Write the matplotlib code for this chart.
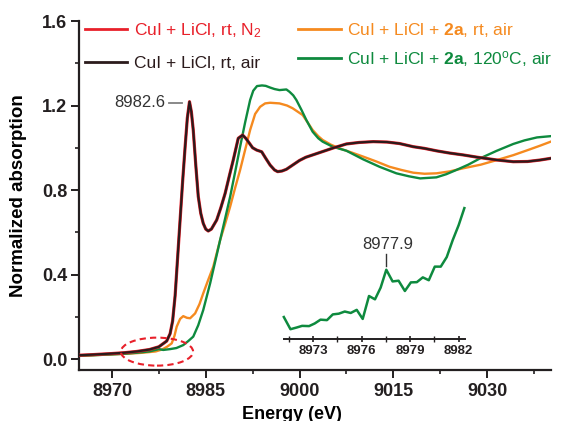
import matplotlib
matplotlib.use("Agg")
import matplotlib.pyplot as plt
from matplotlib.patches import Ellipse
from matplotlib.ticker import MultipleLocator
import numpy as np

plt.rcParams['font.family'] = ['Liberation Sans', 'DejaVu Sans']
plt.rcParams['mathtext.fontset'] = 'custom'
plt.rcParams['mathtext.rm'] = 'Liberation Sans'
plt.rcParams['mathtext.bf'] = 'Liberation Sans:bold'
plt.rcParams['mathtext.it'] = 'Liberation Sans:italic'

# ---------------- data ----------------
labels = [r"CuI + LiCl, rt, N$_2$",
          "CuI + LiCl, rt, air",
          r"CuI + LiCl + $\mathbf{2a}$, rt, air",
          r"CuI + LiCl + $\mathbf{2a}$, 120$^{\rm o}$C, air"]

black_E = [8964.8, 8967.0, 8970.0, 8972.0, 8974.0, 8976.0, 8977.5, 8978.75, 8979.3, 8979.7,
           8980.1, 8980.5, 8980.9, 8981.3, 8981.7, 8982.05, 8982.4, 8982.7, 8983.0, 8983.4,
           8983.8, 8984.2, 8984.6, 8985.0, 8985.4, 8985.9, 8986.75, 8987.4, 8988.1, 8988.8,
           8989.4, 8990.2, 8990.9, 8991.4, 8991.8, 8992.5, 8993.15, 8993.95, 8994.6, 8995.3,
           8996.0, 8996.5, 8997.2, 8997.9, 8999.0, 9000.0, 9001.0, 9002.1, 9004.0, 9005.5,
           9007.5, 9009.5, 9011.8, 9014.0, 9016.0, 9018.2, 9020.0, 9022.0, 9024.0, 9026.2,
           9028.5, 9031.6, 9034.2, 9036.5, 9038.5, 9040.2]
black_mu = [0.018, 0.021, 0.026, 0.030, 0.036, 0.045, 0.058, 0.085, 0.12, 0.18,
            0.30, 0.48, 0.66, 0.84, 1.005, 1.14, 1.218, 1.17, 1.084, 0.92,
            0.77, 0.69, 0.642, 0.615, 0.606, 0.615, 0.658, 0.715, 0.784, 0.87,
            0.942, 1.045, 1.06, 1.045, 1.029, 1.0, 0.989, 0.981, 0.95, 0.918,
            0.895, 0.887, 0.89, 0.898, 0.92, 0.94, 0.955, 0.966, 0.985, 1.0,
            1.018, 1.025, 1.029, 1.027, 1.02, 1.005, 0.997, 0.985, 0.975, 0.966,
            0.955, 0.942, 0.934, 0.935, 0.942, 0.95]

red_E = black_E
red_mu = [0.018, 0.021, 0.026, 0.030, 0.036, 0.045, 0.058, 0.085, 0.12, 0.18,
          0.30, 0.48, 0.66, 0.84, 1.005, 1.14, 1.218, 1.17, 1.084, 0.92,
          0.77, 0.69, 0.642, 0.615, 0.606, 0.615, 0.658, 0.715, 0.784, 0.87,
          0.942, 1.045, 1.06, 1.045, 1.029, 1.0, 0.989, 0.981, 0.95, 0.918,
          0.895, 0.887, 0.89, 0.898, 0.92, 0.94, 0.955, 0.966, 0.985, 1.0,
          1.018, 1.025, 1.029, 1.027, 1.02, 1.005, 0.997, 0.985, 0.975, 0.966,
          0.955, 0.942, 0.934, 0.935, 0.942, 0.95]

orange_E = [8964.8, 8967.0, 8970.0, 8973.0, 8975.0, 8977.0, 8978.0, 8978.8, 8979.55, 8980.0,
            8980.35, 8980.9, 8981.4, 8982.0, 8982.5, 8983.3, 8984.0, 8984.6, 8985.4, 8986.2,
            8987.3, 8988.1, 8988.9, 8989.7, 8990.5, 8991.3, 8992.1, 8992.9, 8993.7, 8994.5,
            8995.3, 8996.8, 8998.0, 8998.9, 9000.0, 9000.5, 9001.3, 9002.1, 9003.0, 9003.7,
            9005.0, 9006.4, 9008.3, 9010.2, 9012.3, 9014.4, 9016.3, 9018.2, 9020.0, 9021.9,
            9024.0, 9026.2, 9029.0, 9031.6, 9034.2, 9036.9, 9038.5, 9040.2]
orange_mu = [0.015, 0.018, 0.022, 0.026, 0.030, 0.036, 0.045, 0.058, 0.074, 0.11,
             0.153, 0.19, 0.203, 0.195, 0.193, 0.216, 0.26, 0.311, 0.375, 0.437,
             0.563, 0.64, 0.721, 0.81, 0.895, 0.99, 1.084, 1.16, 1.194, 1.21,
             1.213, 1.21, 1.20, 1.187, 1.165, 1.155, 1.12, 1.084, 1.055, 1.037,
             1.015, 0.997, 0.978, 0.958, 0.935, 0.91, 0.895, 0.882, 0.877, 0.879,
             0.888, 0.903, 0.92, 0.942, 0.965, 0.993, 1.01, 1.029]

green_E = [8964.8, 8967.0, 8970.0, 8972.0, 8974.0, 8976.0, 8977.5, 8978.2, 8979.3, 8980.3,
           8981.4, 8982.2, 8983.0, 8983.8, 8984.6, 8985.7, 8986.5, 8987.3, 8988.1, 8988.9,
           8989.7, 8990.5, 8991.3, 8992.1, 8992.6, 8993.2, 8994.0, 8994.6, 8995.3, 8996.0,
           8996.8, 8997.9, 8998.4, 8999.0, 8999.5, 9000.3, 9001.1, 9002.1, 9003.0, 9003.7,
           9005.3, 9007.5, 9010.2, 9012.8, 9015.5, 9017.5, 9019.3, 9021.9, 9023.5, 9025.1,
           9027.0, 9028.9, 9031.5, 9034.2, 9036.0, 9038.0, 9040.2]
green_mu = [0.015, 0.018, 0.022, 0.025, 0.030, 0.036, 0.047, 0.043, 0.047, 0.052,
            0.066, 0.085, 0.106, 0.16, 0.232, 0.358, 0.46, 0.563, 0.665, 0.768,
            0.885, 1.005, 1.12, 1.226, 1.27, 1.292, 1.295, 1.293, 1.285, 1.278,
            1.273, 1.276, 1.265, 1.248, 1.226, 1.18, 1.131, 1.076, 1.045, 1.029,
            1.005, 0.986, 0.945, 0.91, 0.879, 0.865, 0.855, 0.86, 0.875, 0.895,
            0.92, 0.95, 0.985, 1.018, 1.035, 1.049, 1.055]

inset_E = [8971.19, 8971.60, 8971.98, 8972.32, 8972.75, 8973.10, 8973.46, 8973.86, 8974.22, 8974.59,
           8974.96, 8975.33, 8975.70, 8976.07, 8976.46, 8976.83, 8977.18, 8977.53, 8977.92, 8978.29,
           8978.68, 8979.05, 8979.42, 8979.79, 8980.16, 8980.53, 8980.90, 8981.27, 8981.64, 8982.01,
           8982.36]
inset_mu = [0.0294, 0.0243, 0.0250, 0.0257, 0.0256, 0.0267, 0.0283, 0.0281, 0.0305, 0.0308,
            0.0317, 0.0311, 0.0324, 0.0286, 0.0382, 0.0368, 0.0417, 0.0492, 0.0443, 0.0446,
            0.0403, 0.0439, 0.0440, 0.0460, 0.0448, 0.0505, 0.0505, 0.0545, 0.0616, 0.0679,
            0.0750]

main_xticks = [8970, 8985, 9000, 9015, 9030]
main_yticks = [0.0, 0.4, 0.8, 1.2, 1.6]
inset_xticks = [8973, 8976, 8979, 8982]
peak_label = "8982.6"
pre_edge_label = "8977.9"

# ---------------- style ----------------
c_red = '#E8202A'
c_black = '#2B1B1C'
c_orange = '#F58A1F'
c_green = '#0E8A3E'
c_gray_text = '#333333'
c_gray_line = '#808080'

fig = plt.figure(figsize=(5.64, 4.21), dpi=100)
ax = fig.add_axes([0.1406, 0.1211, 0.8364, 0.829])

l_red, = ax.plot(red_E, red_mu, color=c_red, lw=2.3, label=labels[0], zorder=3)
l_black, = ax.plot(black_E, black_mu, color=c_black, lw=1.6, label=labels[1], zorder=4)
l_orange, = ax.plot(orange_E, orange_mu, color=c_orange, lw=1.7, label=labels[2], zorder=2)
l_green, = ax.plot(green_E, green_mu, color=c_green, lw=1.7, label=labels[3], zorder=2)

ax.set_xlim(8964.77, 9040.24)
ax.set_ylim(-0.052, 1.6)
ax.set_xticks(main_xticks)
ax.set_yticks(main_yticks)
ax.xaxis.set_minor_locator(MultipleLocator(7.5))
ax.yaxis.set_minor_locator(MultipleLocator(0.2))
ax.set_xticklabels([str(t) for t in main_xticks], fontweight='bold', fontsize=13)
ax.set_yticklabels([f"{t:.1f}" for t in main_yticks], fontweight='bold', fontsize=13)
for s in ['top', 'right']:
    ax.spines[s].set_visible(False)
for s in ['left', 'bottom']:
    ax.spines[s].set_linewidth(1.6)
    ax.spines[s].set_color('#231F20')
ax.tick_params(which='major', direction='out', length=5.5, width=1.4, pad=3,
               colors='#231F20')
ax.tick_params(which='minor', direction='out', length=3, width=1.2, colors='#231F20')
ax.tick_params(axis='x', which='major', pad=4)

ax.set_xlabel("Energy (eV)", fontweight='bold', fontsize=13)
ax.set_ylabel("Normalized absorption", fontweight='bold', fontsize=13.5)
ax.xaxis.set_label_coords(0.451, -0.104)
ax.yaxis.set_label_coords(-0.111, 0.5)

# red dashed ellipse
ell = Ellipse((8977.2, 0.035), width=11.55, height=0.1325, fill=False,
              edgecolor=c_red, lw=1.5, linestyle=(0, (3, 2)), zorder=5)
ax.add_patch(ell)

# peak annotation
ipk = int(np.argmax(black_mu))
pk_E, pk_mu = black_E[ipk], black_mu[ipk]
ax.plot([pk_E - 3.2, pk_E - 1.2], [pk_mu - 0.006, pk_mu - 0.006], color=c_gray_line, lw=1.3)
ax.text(pk_E - 3.9, pk_mu - 0.006, peak_label, ha='right', va='center',
        fontsize=12, color=c_gray_text)

# legends
h1 = [l_red, l_black]
h2 = [l_orange, l_green]
leg_kw = dict(frameon=False, fontsize=12.5, handlelength=2.45, handletextpad=0.35,
              borderpad=0, borderaxespad=0, loc='upper left')
leg1 = ax.legend(h1, labels[:2], bbox_to_anchor=(0.012, 1.0), labelcolor=[c_red, c_black],
                 labelspacing=0.95, **leg_kw)
ax.add_artist(leg1)
leg2 = ax.legend(h2, labels[2:], bbox_to_anchor=(0.4636, 1.0), labelcolor=[c_orange, c_green],
                 labelspacing=0.55, **leg_kw)
for lg in (leg1, leg2):
    for ln in lg.get_lines():
        ln.set_linewidth(2.0)

# inset
axin = fig.add_axes([284 / 564, 1 - 339 / 421, 181 / 564, 134 / 421])
axin.patch.set_alpha(0)
axin.plot(inset_E, inset_mu, color=c_green, lw=1.8, clip_on=False)
axin.set_xlim(8971.2, 8982.4)
axin.set_ylim(0.0202, 0.0763)
for s in ['top', 'right', 'left']:
    axin.spines[s].set_visible(False)
axin.spines['bottom'].set_linewidth(1.4)
axin.spines['bottom'].set_color('#231F20')
axin.set_yticks([])
axin.set_xticks(inset_xticks)
axin.xaxis.set_minor_locator(MultipleLocator(1.5))
axin.set_xticklabels([str(t) for t in inset_xticks], fontweight='bold', fontsize=9.5)
axin.tick_params(axis='x', which='major', direction='inout', length=5, width=1.2, pad=2,
                 colors='#231F20')
axin.tick_params(axis='x', which='minor', direction='inout', length=4, width=1.0,
                 colors='#231F20')

# pre-edge annotation
win = [i for i, e in enumerate(inset_E) if 8977.0 < e < 8978.0]
ipe = max(win, key=lambda i: inset_mu[i])
pe_E, pe_mu = inset_E[ipe], inset_mu[ipe]
axin.plot([pe_E, pe_E], [pe_mu + 0.0015, pe_mu + 0.0066], color=c_gray_text, lw=1.0)
axin.text(pe_E + 0.08, pe_mu + 0.0073, pre_edge_label, ha='center', va='bottom',
          fontsize=12, color=c_gray_text)

fig.savefig("out.png", dpi=100)
